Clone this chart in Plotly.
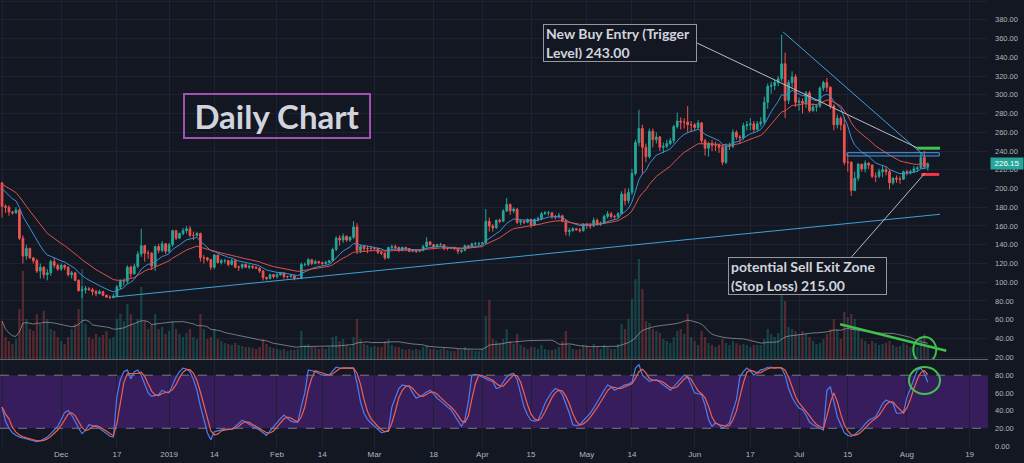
import pandas as pd
import plotly.graph_objects as go

# ETH/USD daily candles, 14 Nov 2018 .. 7 Aug 2019
first_open = 206
closes = [
    181, 180, 175, 174, 177, 147, 128, 136, 126, 123, 112, 116, 108, 110, 122, 118, 114,  # Nov
    118, 116, 108, 110, 102, 91, 92, 93, 92, 90, 88, 90, 86, 84, 84, 85, 95, 101, 101, 116,
    109, 117, 130, 139, 131, 131, 117, 138, 134, 141, 133,  # Dec
    140, 155, 147, 152, 155, 157, 150, 150, 152, 126, 126, 124, 116, 129, 121, 123, 123, 119,
    123, 116, 116, 119, 116, 117, 116, 115, 112, 105, 104, 108, 106,  # Jan
    108, 110, 106, 106, 107, 104, 104, 119, 119, 124, 120, 122, 121, 120, 121, 123, 135, 147,
    145, 149, 145, 148, 159, 134, 138, 136, 136, 136,  # Feb
    136, 132, 131, 126, 137, 138, 137, 134, 137, 136, 133, 134, 133, 134, 138, 143, 140, 138,
    140, 140, 136, 136, 137, 136, 133, 134, 139, 138, 141, 141, 141,  # Mar
    142, 165, 160, 158, 166, 165, 176, 183, 176, 178, 164, 165, 164, 167, 161, 167, 168, 173,
    174, 174, 170, 170, 171, 165, 154, 155, 157, 156, 155, 162,  # Apr
    161, 160, 166, 162, 163, 170, 173, 170, 170, 173, 194, 187, 196, 216, 249, 264, 244, 234,
    261, 252, 255, 244, 245, 248, 251, 266, 272, 271, 271, 268, 268,  # May
    265, 270, 251, 243, 248, 246, 246, 244, 228, 245, 245, 260, 255, 254, 267, 268, 269, 263,
    269, 271, 292, 309, 310, 313, 317, 333, 294, 313, 319, 292,  # Jun
    293, 291, 302, 283, 287, 288, 307, 313, 308, 288, 268, 275, 268, 228, 228, 198, 211, 226,
    221, 227, 225, 213, 213, 218, 220, 218, 206, 211, 210, 210, 218,  # Jul
    217, 218, 221, 222, 233, 223, 226.15,  # Aug
]
highs = [
    207, 183, 182, 176, 180, 178, 150, 140, 137, 127, 125, 120, 117, 114, 124, 126, 120,
    120, 119, 117, 112, 111, 103, 96, 96, 95, 94, 92, 92, 91, 87, 86, 88, 97, 103, 104, 118,
    118, 120, 133, 157, 140, 134, 132, 139, 141, 144, 142,
    142, 156, 156, 153, 158, 160, 160, 154, 154, 153, 129, 127, 125, 130, 129, 125, 125, 124,
    125, 124, 118, 120, 120, 119, 118, 117, 116, 113, 106, 109, 109,
    110, 111, 110, 107, 108, 107, 105, 121, 121, 126, 125, 124, 123, 122, 123, 124, 137, 149,
    150, 152, 150, 149, 165, 163, 140, 139, 139, 139,
    138, 137, 133, 132, 138, 140, 140, 138, 138, 138, 136, 135, 135, 135, 140, 148, 144, 141,
    141, 142, 140, 137, 138, 138, 136, 135, 140, 139, 142, 143, 143,
    143, 178, 169, 162, 167, 168, 178, 190, 184, 180, 179, 167, 166, 168, 168, 168, 170, 175,
    176, 176, 175, 172, 174, 172, 167, 158, 159, 158, 158, 163,
    163, 163, 169, 168, 165, 172, 176, 175, 172, 175, 197, 200, 200, 221, 252, 284, 268, 248,
    264, 264, 260, 256, 249, 252, 254, 268, 281, 276, 275, 288, 272,
    270, 273, 271, 253, 250, 252, 250, 248, 247, 248, 249, 263, 262, 257, 270, 272, 275, 272,
    272, 276, 298, 312, 314, 316, 320, 364, 345, 316, 325, 322,
    297, 296, 304, 304, 291, 290, 309, 315, 318, 309, 290, 279, 277, 276, 237, 229, 218, 227,
    226, 230, 228, 226, 217, 221, 224, 223, 220, 212, 214, 213, 219,
    220, 220, 224, 224, 239, 240, 228,
]
lows = [
    169, 174, 171, 172, 173, 145, 120, 124, 125, 120, 110, 104, 104, 102, 107, 115, 112,
    112, 113, 106, 104, 101, 90, 83, 88, 91, 86, 85, 87, 85, 84, 82, 83, 84, 92, 96, 98,
    105, 108, 115, 127, 122, 125, 113, 112, 131, 132, 130,
    131, 138, 145, 146, 150, 152, 148, 145, 148, 122, 120, 122, 113, 114, 120, 119, 120, 117,
    118, 115, 112, 114, 115, 114, 114, 114, 110, 102, 102, 103, 104,
    104, 107, 104, 104, 105, 102, 103, 104, 117, 117, 118, 119, 119, 118, 119, 120, 122, 133,
    139, 142, 143, 143, 146, 130, 131, 133, 131, 133,
    134, 130, 129, 124, 125, 135, 135, 132, 133, 133, 132, 132, 131, 132, 133, 137, 139, 135,
    137, 139, 134, 134, 136, 134, 130, 131, 133, 136, 137, 139, 139,
    140, 141, 154, 154, 157, 163, 165, 175, 172, 174, 162, 161, 162, 163, 158, 160, 165, 166,
    172, 171, 168, 167, 168, 164, 150, 149, 154, 155, 153, 154,
    157, 157, 159, 160, 160, 162, 168, 168, 167, 168, 172, 182, 184, 193, 214, 245, 215, 228,
    232, 244, 248, 240, 238, 243, 246, 248, 264, 263, 264, 260, 260,
    262, 263, 248, 235, 234, 240, 240, 238, 225, 226, 241, 243, 252, 248, 252, 262, 262, 260,
    262, 266, 268, 285, 301, 305, 309, 314, 275, 290, 307, 287,
    283, 280, 286, 281, 282, 282, 286, 304, 303, 285, 262, 264, 262, 225, 218, 192, 197, 208,
    218, 217, 221, 211, 207, 211, 212, 214, 199, 204, 206, 205, 209,
    214, 215, 217, 218, 221, 221, 219,
]
volumes = [
    38, 22, 18, 15, 20, 50, 88, 40, 30, 28, 45, 35, 48, 40, 30, 28, 22,
    18, 15, 22, 30, 35, 50, 90, 35, 22, 20, 25, 22, 24, 28, 20, 22, 40, 45, 38, 55,
    45, 35, 40, 72, 38, 30, 35, 45, 30, 32, 25,
    28, 38, 30, 25, 22, 26, 30, 22, 20, 45, 30, 20, 22, 30, 20, 18, 16, 15,
    14, 16, 14, 13, 12, 12, 11, 10, 12, 20, 15, 12, 11,
    10, 9, 10, 8, 9, 9, 10, 28, 14, 15, 12, 12, 10, 11, 10, 12, 22, 23,
    18, 20, 14, 12, 22, 40, 20, 15, 14, 12,
    13, 12, 12, 18, 20, 14, 12, 12, 10, 9, 10, 9, 10, 9, 12, 14, 10, 10,
    9, 10, 11, 9, 8, 8, 10, 9, 12, 10, 9, 8, 8,
    10, 43, 59, 20, 18, 16, 20, 30, 18, 15, 25, 14, 12, 10, 12, 12, 10, 14,
    10, 9, 9, 10, 12, 18, 28, 14, 10, 9, 10, 14,
    13, 10, 15, 12, 10, 14, 12, 10, 10, 15, 35, 30, 40, 60, 80, 100, 70, 38,
    36, 30, 28, 26, 20, 18, 16, 22, 28, 30, 25, 45, 22,
    18, 14, 28, 22, 16, 14, 12, 14, 20, 16, 14, 18, 16, 14, 15, 14, 12, 14,
    14, 14, 20, 30, 25, 22, 26, 64, 58, 32, 30, 28,
    25, 28, 25, 22, 18, 15, 16, 20, 25, 30, 40, 30, 20, 47, 42, 45, 40, 28,
    20, 18, 15, 18, 16, 14, 15, 16, 18, 14, 12, 13, 16,
    14, 12, 13, 12, 22, 25, 12,
]
# Stochastic RSI %K (lower pane)
stoch_k = [
    44, 28, 20, 15, 12, 10, 9, 8, 7, 6,
    5, 6, 8, 10, 14, 18, 22, 30, 38, 40,
    35, 28, 20, 14, 18, 24, 23, 22, 20, 17,
    14, 11, 10, 56, 75, 84, 86, 76, 84, 86,
    80, 70, 60, 56, 57, 58, 63, 61, 60, 70,
    78, 84, 88, 87, 84, 75, 63, 45, 29, 15,
    7, 16, 17, 18, 19, 19, 19, 22, 26, 29,
    27, 24, 22, 20, 18, 15, 12, 17, 22, 26,
    31, 35, 32, 28, 27, 27, 45, 60, 86, 85,
    84, 82, 80, 80, 80, 85, 89, 88, 88, 88,
    88, 88, 71, 50, 37, 30, 26, 22, 18, 15,
    16, 18, 44, 55, 65, 69, 68, 67, 60, 54,
    56, 58, 61, 63, 59, 54, 51, 47, 44, 41,
    35, 28, 22, 30, 50, 80, 81, 80, 78, 76,
    74, 73, 65, 66, 72, 78, 81, 82, 75, 60,
    44, 35, 29, 28, 29, 38, 48, 55, 61, 65,
    63, 58, 48, 37, 24, 23, 24, 28, 32, 37,
    43, 50, 56, 63, 69, 67, 63, 65, 67, 69,
    70, 72, 88, 92, 80, 76, 73, 74, 75, 72,
    69, 66, 63, 67, 71, 76, 80, 78, 68, 60,
    59, 58, 46, 30, 22, 26, 24, 20, 23, 26,
    40, 52, 78, 84, 88, 85, 80, 83, 86, 87,
    89, 89, 88, 89, 88, 80, 65, 55, 48, 43,
    41, 35, 27, 24, 22, 20, 18, 63, 67, 50,
    33, 24, 15, 12, 11, 13, 16, 20, 25, 29,
    31, 33, 40, 48, 52, 50, 48, 37, 37, 38,
    55, 65, 75, 86, 88, 82, 72,
]

# EMA values on the day before the first candle (seen at the left edge)
ema_fast_seed = 204
ema_slow_seed = 207

tick_dates = ['2018-11-14', '2018-12-01', '2018-12-17', '2019-01-01', '2019-01-14',
              '2019-02-01', '2019-02-14', '2019-03-01', '2019-03-18', '2019-04-01',
              '2019-04-15', '2019-05-01', '2019-05-14', '2019-06-01', '2019-06-17',
              '2019-07-01', '2019-07-15', '2019-08-01', '2019-08-19']
tick_labels = ['14', 'Dec', '17', '2019', '14', 'Feb', '14', 'Mar', '18', 'Apr',
               '15', 'May', '14', 'Jun', '17', 'Jul', '15', 'Aug', '19']


def ema(values, span, seed):
    alpha = 2 / (span + 1)
    out, prev = [], seed
    for v in values:
        prev = prev + alpha * (v - prev)
        out.append(prev)
    return out


df = pd.DataFrame({'close': closes, 'high': highs, 'low': lows,
                   'volume': volumes, 'k': stoch_k},
                  index=pd.date_range('2018-11-14', periods=len(closes), freq='D'))
df['open'] = [first_open] + closes[:-1]
df['ema_fast'] = ema(closes, 10, ema_fast_seed)
df['ema_slow'] = ema(closes, 21, ema_slow_seed)
df['vol_ma'] = df['volume'].rolling(20, min_periods=1).mean()
df['d'] = df['k'].rolling(3, min_periods=1).mean()

UP, DOWN = '#26a69a', '#ef5350'
BG, GRID, TEXT = '#131722', '#1e2230', '#b2b5be'
vol_colors = ['rgba(38,166,154,0.3)' if c >= o else 'rgba(239,83,80,0.3)'
              for o, c in zip(df['open'], df['close'])]

fig = go.Figure()
fig.add_trace(go.Bar(x=df.index, y=df['volume'], marker=dict(color=vol_colors, line_width=0),
                     xaxis='x', yaxis='y'))
fig.add_trace(go.Scatter(x=df.index, y=df['vol_ma'], mode='lines',
                         line=dict(color='rgba(178,181,190,0.6)', width=1), xaxis='x', yaxis='y'))
fig.add_trace(go.Candlestick(x=df.index, open=df['open'], high=df['high'], low=df['low'],
                             close=df['close'], xaxis='x', yaxis='y2',
                             increasing=dict(line=dict(color=UP, width=1), fillcolor=UP),
                             decreasing=dict(line=dict(color=DOWN, width=1), fillcolor=DOWN)))
fig.add_trace(go.Scatter(x=df.index, y=df['ema_fast'], mode='lines',
                         line=dict(color='#3d8fd6', width=1), xaxis='x', yaxis='y2'))
fig.add_trace(go.Scatter(x=df.index, y=df['ema_slow'], mode='lines',
                         line=dict(color='#d9534f', width=1), xaxis='x', yaxis='y2'))
fig.add_trace(go.Scatter(x=df.index, y=df['k'], mode='lines',
                         line=dict(color='#4f7cf0', width=1.2), xaxis='x2', yaxis='y3'))
fig.add_trace(go.Scatter(x=df.index, y=df['d'], mode='lines',
                         line=dict(color='#f0604d', width=1.2), xaxis='x2', yaxis='y3'))

x_range = ['2018-11-13 10:00', '2019-08-24 07:00']
main_bottom = 89 / 448
stoch_top = 88 / 448

fig.update_layout(
    width=1024, height=463,
    margin=dict(l=0, r=36, t=0, b=15),
    paper_bgcolor=BG, plot_bgcolor=BG,
    showlegend=False, hovermode=False, bargap=0.35,
    font=dict(family='Liberation Sans, Arial, sans-serif', color=TEXT, size=8),
    xaxis=dict(domain=[0, 1], anchor='y', type='date', range=x_range,
               tickvals=tick_dates, showticklabels=False, ticks='',
               showgrid=True, gridcolor=GRID, zeroline=False,
               showline=True, linecolor='#5d606b', linewidth=1,
               rangeslider=dict(visible=False)),
    yaxis=dict(domain=[main_bottom, 1], range=[0, 359], visible=False),
    yaxis2=dict(overlaying='y', anchor='x', side='right', range=[18.1, 401.1],
                tick0=0, dtick=20, tickformat='.2f', ticks='', ticklabelstandoff=6,
                tickfont=dict(size=7.5, color=TEXT),
                showgrid=True, gridcolor=GRID, zeroline=False),
    xaxis2=dict(domain=[0, 1], anchor='y3', matches='x', type='date',
                tickvals=tick_dates, ticktext=tick_labels, ticks='',
                tickfont=dict(size=8, color=TEXT),
                showgrid=True, gridcolor=GRID, zeroline=False,
                rangeslider=dict(visible=False)),
    yaxis3=dict(domain=[0, stoch_top], anchor='x2', side='right', range=[-2.3, 97.2],
                tickvals=[0, 20, 40, 60, 80], tickformat='.2f', ticks='',
                ticklabelstandoff=6, tickfont=dict(size=7.5, color=TEXT),
                showgrid=False, zeroline=False),
)

GREEN = '#3fc04f'
TREND = '#3fa1d6'
POINTER = '#b8bbc4'
shapes = [
    # stochastic band and its bounds
    dict(type='rect', xref='x2 domain', yref='y3', x0=0, x1=1, y0=20, y1=80,
         fillcolor='#381d5c', line_width=0, layer='below'),
    dict(type='line', xref='x2 domain', yref='y3', x0=0, x1=1, y0=80, y1=80,
         line=dict(color='#787b86', width=1, dash='dash')),
    dict(type='line', xref='x2 domain', yref='y3', x0=0, x1=1, y0=20, y1=20,
         line=dict(color='#787b86', width=1, dash='dash')),
    # rising support line
    dict(type='line', xref='x', yref='y2', x0='2018-12-15 14:00', y0=84,
         x1='2019-08-10 12:00', y1=172.5, line=dict(color=TREND, width=1)),
    # falling resistance from the June high
    dict(type='line', xref='x', yref='y2', x0='2019-06-26 10:00', y0=367,
         x1='2019-08-05 17:00', y1=235.7, line=dict(color=TREND, width=1)),
    # consolidation box
    dict(type='rect', xref='x', yref='y2', x0='2019-07-14 19:00', x1='2019-08-10 07:00',
         y0=234.7, y1=238.2, line=dict(color='#4a9be0', width=1),
         fillcolor='rgba(33,150,243,0.06)'),
    # trigger and stop levels
    dict(type='line', xref='x', yref='y2', x0='2019-08-03 22:00', x1='2019-08-10 12:00',
         y0=243, y1=243, line=dict(color=GREEN, width=3)),
    dict(type='line', xref='x', yref='y2', x0='2019-08-05 02:00', x1='2019-08-10 07:00',
         y0=215, y1=215, line=dict(color='#f23645', width=3)),
    # callout pointers
    dict(type='line', xref='x', yref='y2', x0='2019-06-01 17:00', y0=355.2,
         x1='2019-08-03 22:00', y1=243.5, line=dict(color=POINTER, width=1)),
    dict(type='line', xref='x', yref='y2', x0='2019-07-16 02:00', y0=127,
         x1='2019-08-06 05:00', y1=216.5, line=dict(color=POINTER, width=1)),
    # falling volume line and highlight circles
    dict(type='line', xref='x', yref='y', x0='2019-07-12 19:00', y0=34.7,
         x1='2019-08-12 07:00', y1=8.3, line=dict(color=GREEN, width=2.5)),
    dict(type='circle', xref='x', yref='y', x0='2019-08-02 19:00', x1='2019-08-09 10:00',
         y0=-4, y1=22, line=dict(color=GREEN, width=2)),
    dict(type='circle', xref='x', yref='y3', x0='2019-08-01 14:00', x1='2019-08-10 12:00',
         y0=58.8, y1=89.3, line=dict(color=GREEN, width=2)),
]
fig.update_layout(shapes=shapes)

LABEL = '#d1d4dc'
fig.add_annotation(x='2019-01-05', y=301.9, xref='x', yref='y2', xanchor='left', yanchor='top',
                   text='<b>Daily Chart</b>', showarrow=False, align='center',
                   width=180, height=38, borderpad=2, borderwidth=2, bordercolor='#a052b4',
                   font=dict(family='Lato, Open Sans, sans-serif', size=33, color=LABEL))
fig.add_annotation(x='2019-04-18 11:00', y=375.5, xref='x', yref='y2', xanchor='left',
                   yanchor='top', text='<b>New Buy Entry (Trigger<br>Level) 243.00</b>',
                   showarrow=False, align='left', width=148, height=32, borderpad=2,
                   borderwidth=1, bordercolor='#9598a1', bgcolor=BG,
                   font=dict(family='Lato, Open Sans, sans-serif', size=14, color=LABEL))
fig.add_annotation(x='2019-06-10 14:00', y=126.9, xref='x', yref='y2', xanchor='left',
                   yanchor='top', text='<b>potential Sell Exit Zone<br>(Stop Loss) 215.00</b>',
                   showarrow=False, align='left', width=153, height=32, borderpad=2,
                   borderwidth=1, bordercolor='#9598a1', bgcolor=BG,
                   font=dict(family='Lato, Open Sans, sans-serif', size=14, color=LABEL))
# last price tag on the price scale
fig.add_annotation(x=1, y=closes[-1], xref='paper', yref='y2', xanchor='left', yanchor='middle',
                   xshift=2, text=f'{closes[-1]:.2f}', showarrow=False, bgcolor=UP,
                   width=30, borderpad=1, font=dict(size=8, color='white'))

# page without the default body margin so the 1024x463 chart fills the window
fig.write_html('out.html', config={'displayModeBar': False},
               post_script="document.body.style.margin='0';")
